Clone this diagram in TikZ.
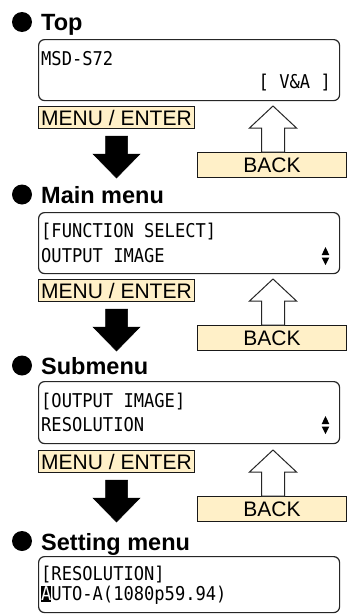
\documentclass[tikz,border=0pt]{standalone}
\usepackage{fontspec}
\setmainfont{Liberation Sans}
\newfontfamily\lcdfont[FakeStretch=0.9]{DejaVu Sans Mono}
\usetikzlibrary{calc}
\definecolor{keyfill}{HTML}{FFF0C8}
\begin{document}
\begin{tikzpicture}[x=1pt,y=-1pt,
  screen/.style={draw=black!85, line width=1.2pt, rounded corners=6pt, anchor=north west, minimum width=301pt, minimum height=61pt, inner sep=0pt},
  keybox/.style={draw=black!90, line width=1pt, fill=keyfill, inner sep=0pt, anchor=north west, minimum height=22pt, font=\fontsize{21}{22}\selectfont},
  lcd/.style={anchor=base west, inner sep=0pt, font=\lcdfont\fontsize{19}{20}\selectfont},
  heading/.style={anchor=base west, inner sep=0pt, font=\bfseries\fontsize{23.5}{26}\selectfont},
  dot/.style={circle, fill=black, minimum size=20pt, inner sep=0pt},
  blk/.style={fill=black, draw=black, line width=0.5pt, line join=miter},
  hollow/.style={fill=white, draw=black!85, line width=1pt, line join=miter}]
\fill[white] (0,0) rectangle (348,616);
\useasboundingbox (0,0) rectangle (348,616);

% headings
\node[dot] (b1) at (22,22) {};
\node[heading] (h1) at (41,30) {Top};
\node[dot] (b2) at (22,194.5) {};
\node[heading] (h2) at (41,203) {Main menu};
\node[dot] (b3) at (22,365.5) {};
\node[heading] (h3) at (41,374) {Submenu};
\node[dot] (b4) at (22,541) {};
\node[heading] (h4) at (41,550) {Setting menu};

% screens
\node[screen] (s1) at (38,39) {};
\node[lcd] (t1a) at (41,65) {MSD-S72};
\node[lcd, anchor=base east] (t1b) at (331,88) {[ V\&A ]};

\node[screen] (s2) at (38,212) {};
\node[lcd] (t2a) at (41,237) {[FUNCTION SELECT]};
\node[lcd] (t2b) at (41,262) {OUTPUT IMAGE};
\fill (325.5,247) -- (329.3,255) -- (321.7,255) -- cycle;
\fill (321.7,257.5) -- (329.3,257.5) -- (325.5,265) -- cycle;

\node[screen, minimum height=62pt] (s3) at (38,381) {};
\node[lcd] (t3a) at (41,407) {[OUTPUT IMAGE]};
\node[lcd] (t3b) at (41,431) {RESOLUTION};
\fill (325.5,416) -- (329.3,424) -- (321.7,424) -- cycle;
\fill (321.7,426.5) -- (329.3,426.5) -- (325.5,434) -- cycle;

\node[screen, minimum height=56pt] (s4) at (38,556) {};
\fill (40.5,586) rectangle (51,601.5);
\node[lcd] (t4a) at (41,580) {[RESOLUTION]};
\node[lcd] (t4b) at (41,600) {\textcolor{white}{A}UTO-A(1080p59.94)};

% keys and arrows
\foreach \i/\off in {1/0,2/173,3/344}{
  \begin{scope}[shift={(0,\off)}]
    \node[keybox, minimum width=156pt] (m\i) at (38,106) {MENU / ENTER};
    \node[keybox, minimum width=149pt, minimum height=25pt] (k\i) at (197,152) {BACK};
    \draw[blk] ($(m\i.south)+(-11,7)$) -- ++(22,0) -- ++(0,18) -- ++(12.5,0)
      -- ++(-23.5,24) -- ++(-23.5,-24) -- ++(12.5,0) -- cycle;
    \draw[hollow] (273,106) -- (296.5,128) -- (284.5,128) -- (284.5,152)
      -- (261.5,152) -- (261.5,128) -- (249.5,128) -- cycle;
  \end{scope}
}
\end{tikzpicture}
\end{document}
